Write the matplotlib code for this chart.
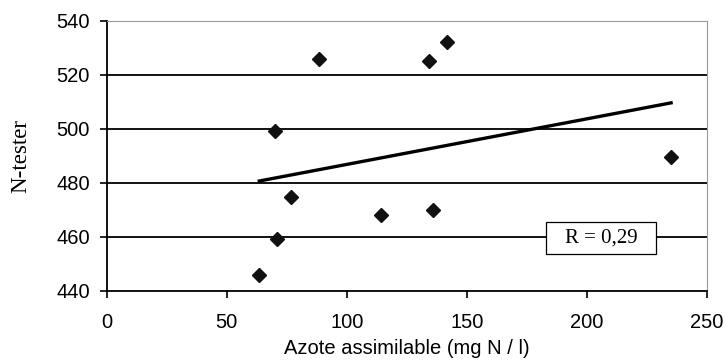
import matplotlib.pyplot as plt
from matplotlib.patches import Rectangle
import numpy as np

# valeurs
azote = [63.6, 70.1, 88.5, 76.8, 70.8, 134.3, 141.9, 114.4, 136.1, 235.1]
ntester = [445.8, 499.3, 526.0, 474.8, 459.3, 525.2, 532.0, 468.0, 469.9, 489.6]
r_label = 'R = 0,29'

x = np.array(azote)
y = np.array(ntester)
pente, origine = np.polyfit(x, y, 1)
xl = np.array([x.min(), x.max()])

fig = plt.figure(figsize=(7.25, 3.6), dpi=100)
ax = fig.add_axes([0.147, 0.1925, 0.828, 0.75])

# grille horizontale noire
for yy in [460, 480, 500, 520]:
    ax.axhline(yy, color='black', linewidth=1.3, zorder=1)

ax.plot(xl, pente * xl + origine, color='black', linewidth=2.4, zorder=3)
ax.plot(x, y, linestyle='none', marker='D', markersize=7.5, color='#111111', zorder=4)

# cadre du coefficient R
ax.add_patch(Rectangle((183, 453.6), 46, 11.9, facecolor='white',
                       edgecolor='black', linewidth=0.9, zorder=5))
ax.text(206, 459.6, r_label, family='Liberation Serif', fontsize=15,
        ha='center', va='center', zorder=6)

ax.set_xlim(0, 250)
ax.set_ylim(440, 540)
ax.set_xticks([0, 50, 100, 150, 200, 250])
ax.set_yticks([440, 460, 480, 500, 520, 540])

ax.spines['left'].set_color('black')
ax.spines['bottom'].set_color('black')
ax.spines['left'].set_linewidth(1.3)
ax.spines['bottom'].set_linewidth(1.3)
ax.spines['top'].set_color('#999999')
ax.spines['right'].set_color('#999999')

ax.tick_params(direction='out', length=5, width=1.2, labelsize=14.5)
for lab in ax.get_xticklabels() + ax.get_yticklabels():
    lab.set_family('Liberation Sans')
ax.tick_params(axis='x', pad=11)
ax.tick_params(axis='y', pad=7)

ax.set_xlabel('Azote assimilable (mg N / l)', family='Liberation Sans', fontsize=14.5, labelpad=5)
ax.set_ylabel('N-tester', family='Liberation Serif', fontsize=16.5, labelpad=18)

plt.savefig('out.png', dpi=100)
plt.close()
